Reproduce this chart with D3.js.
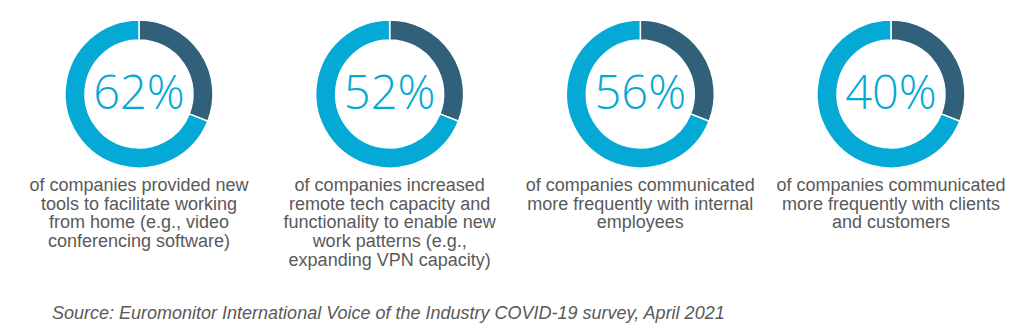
<!DOCTYPE html>
<html>
<head>
<meta charset="utf-8">
<script src="https://cdn.jsdelivr.net/npm/d3@7"></script>
<style>
  body { margin: 0; background: #fff; }
</style>
</head>
<body>
<div id="chart"></div>
<script>
// Data
var percents = [62, 52, 56, 40];
// the dark arc is the same size on every ring (about 31% of the circle)
var darkShare = [31, 31, 31, 31];
var captions = [
  ["of companies provided new", "tools to facilitate working", "from home (e.g., video", "conferencing software)"],
  ["of companies increased", "remote tech capacity and", "functionality to enable new", "work patterns (e.g.,", "expanding VPN capacity)"],
  ["of companies communicated", "more frequently with internal", "employees"],
  ["of companies communicated", "more frequently with clients", "and customers"]
];
var source = "Source: Euromonitor International Voice of the Industry COVID-19 survey, April 2021";

var svgWidth = 1024;
var svgHeight = 333;

var svg = d3.select("#chart")
  .append("svg")
  .attr("width", svgWidth)
  .attr("height", svgHeight);

var lightBlue = "#05a9d6";
var darkBlue = "#30607a";

// x position of each ring
var xScale = d3.scalePoint()
  .domain(d3.range(percents.length))
  .range([139, 891]);

var cy = 94;

var pie = d3.pie()
  .sort(null)
  .value(d => d.v);

var arc = d3.arc()
  .innerRadius(54)
  .outerRadius(74);

var groups = svg.selectAll("g.ring")
  .data(percents)
  .enter()
  .append("g")
  .attr("class", "ring")
  .attr("transform", (d, i) => `translate(${xScale(i)}, ${cy})`);

groups.selectAll("path")
  .data((d, i) => pie([
    { v: darkShare[i], c: darkBlue },
    { v: 100 - darkShare[i], c: lightBlue }
  ]))
  .enter()
  .append("path")
  .attr("d", arc)
  .attr("fill", d => d.data.c)
  .attr("stroke", "#fff")
  .attr("stroke-width", 1.5);

// big percentage in the middle
groups.append("text")
  .attr("text-anchor", "middle")
  .attr("y", 15)
  .style("font-family", "'Open Sans', sans-serif")
  .style("font-weight", 300)
  .style("font-size", "47px")
  .attr("fill", lightBlue)
  .text(d => d + "%");

// captions under each ring
var capText = svg.selectAll("text.caption")
  .data(captions)
  .enter()
  .append("text")
  .attr("class", "caption")
  .attr("text-anchor", "middle")
  .style("font-family", "'Liberation Sans', Arial, sans-serif")
  .style("font-size", "18px")
  .attr("fill", "#595959");

capText.selectAll("tspan")
  .data((d, i) => d.map(line => ({ line: line, i: i })))
  .enter()
  .append("tspan")
  .attr("x", d => xScale(d.i))
  .attr("y", (d, j) => 191 + j * 18.7)
  .text(d => d.line);

// source note
svg.append("text")
  .attr("x", 52)
  .attr("y", 319)
  .style("font-family", "'Liberation Sans', Arial, sans-serif")
  .style("font-size", "18px")
  .style("font-style", "italic")
  .attr("fill", "#595959")
  .text(source);
</script>
</body>
</html>
